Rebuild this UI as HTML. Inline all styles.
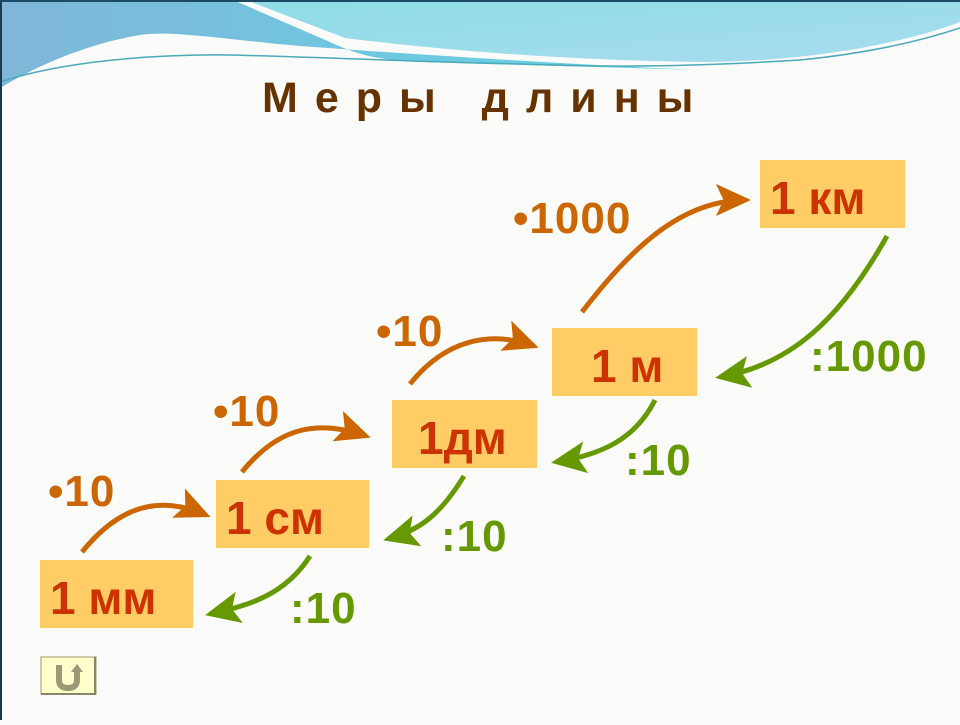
<!DOCTYPE html>
<html><head><meta charset="utf-8"><style>
body{margin:0;width:960px;height:720px;overflow:hidden;background:#fbfbfa;font-family:"Liberation Sans",sans-serif}
</style></head><body>
<svg width="960" height="720" viewBox="0 0 960 720" xmlns="http://www.w3.org/2000/svg">
<defs>
<linearGradient id="w1" x1="0" y1="0" x2="1" y2="0"><stop offset="0" stop-color="#80b6d8"/><stop offset="0.5" stop-color="#70c6e0"/><stop offset="1" stop-color="#66d4e4"/></linearGradient>
<linearGradient id="w2" x1="0" y1="0" x2="1" y2="1"><stop offset="0" stop-color="#8edde6"/><stop offset="1" stop-color="#a8dcef"/></linearGradient>
<marker id="ao" markerWidth="8" markerHeight="8" refX="6" refY="4" orient="auto" markerUnits="strokeWidth"><path d="M0,0.8 L7,4 L0,7.2 L1.5,4 Z" fill="#cc6600"/></marker>
<marker id="ag" markerWidth="8" markerHeight="8" refX="6" refY="4" orient="auto" markerUnits="strokeWidth"><path d="M0,0.8 L7,4 L0,7.2 L1.5,4 Z" fill="#669900"/></marker>
</defs>
<path d="M0,0 H233 L330,42 C360,56 380,60 420,62 L700,70 C600,66 420,55 300,46 C230,40 170,30 140,35 C80,45 30,70 0,88 Z" fill="url(#w1)"/>
<path d="M246,0 H960 V22 C900,45 800,62 700,62 C560,60 440,50 345,38 Z" fill="url(#w2)"/>
<path d="M0,82 C60,62 150,54 230,55 C320,57 420,62 520,64 C620,68 700,66 800,60 C880,52 930,38 960,28" stroke="#4aaab8" stroke-width="1.5" fill="none"/>
<rect x="0" y="0" width="2" height="720" fill="#1a3a50"/>
<rect x="0" y="0" width="960" height="2" fill="#1a4a66"/>
<text x="262" y="112" font-size="43" font-weight="bold" fill="#663300" letter-spacing="17">Меры длины</text>
<g fill="#ffcc66">
<rect x="40" y="560" width="153" height="68"/>
<rect x="216" y="480" width="153" height="68"/>
<rect x="392" y="400" width="145" height="68"/>
<rect x="552" y="328" width="145" height="68"/>
<rect x="760" y="160" width="145" height="68"/>
</g>
<g font-size="46" font-weight="bold" fill="#cc3300">
<text x="50" y="614">1 мм</text>
<text x="226" y="534">1 см</text>
<text x="418" y="454">1дм</text>
<text x="591" y="382">1 м</text>
<text x="770" y="214">1 км</text>
</g>
<g fill="none" stroke="#cc6600" stroke-width="5" marker-end="url(#ao)">
<path d="M82,552 C120,505 160,495 206,515"/>
<path d="M242,472 C280,425 320,420 366,436"/>
<path d="M410,384 C445,340 490,330 534,346"/>
<path d="M582,312 C630,250 680,200 746,200"/>
</g>
<g fill="none" stroke="#669900" stroke-width="5" marker-end="url(#ag)">
<path d="M310,556 C285,595 250,605 210,614"/>
<path d="M464,476 C440,515 420,530 388,539"/>
<path d="M655,400 C635,440 600,455 556,462"/>
<path d="M887,236 C840,320 790,365 720,377"/>
</g>
<g font-size="44" font-weight="bold" fill="#cc6600" letter-spacing="1">
<text x="48" y="506">•10</text>
<text x="213" y="426">•10</text>
<text x="376" y="346">•10</text>
<text x="513" y="233">•1000</text>
</g>
<g font-size="44" font-weight="bold" fill="#669900" letter-spacing="1">
<text x="290" y="623">:10</text>
<text x="441" y="551">:10</text>
<text x="625" y="475">:10</text>
<text x="810" y="371">:1000</text>
</g>
<rect x="41" y="657" width="55" height="37" fill="#ffffcc" stroke="#999966" stroke-width="1"/>
<path d="M95,657 V694 H41" stroke="#888866" stroke-width="2" fill="none"/>
<path d="M59,665 V680 Q59,688 68,688 Q77,688 77,680 V670" stroke="#999977" stroke-width="6" fill="none"/>
<path d="M71,672 L77,664 L83,672 Z" fill="#999977"/>
</svg>
</body></html>
